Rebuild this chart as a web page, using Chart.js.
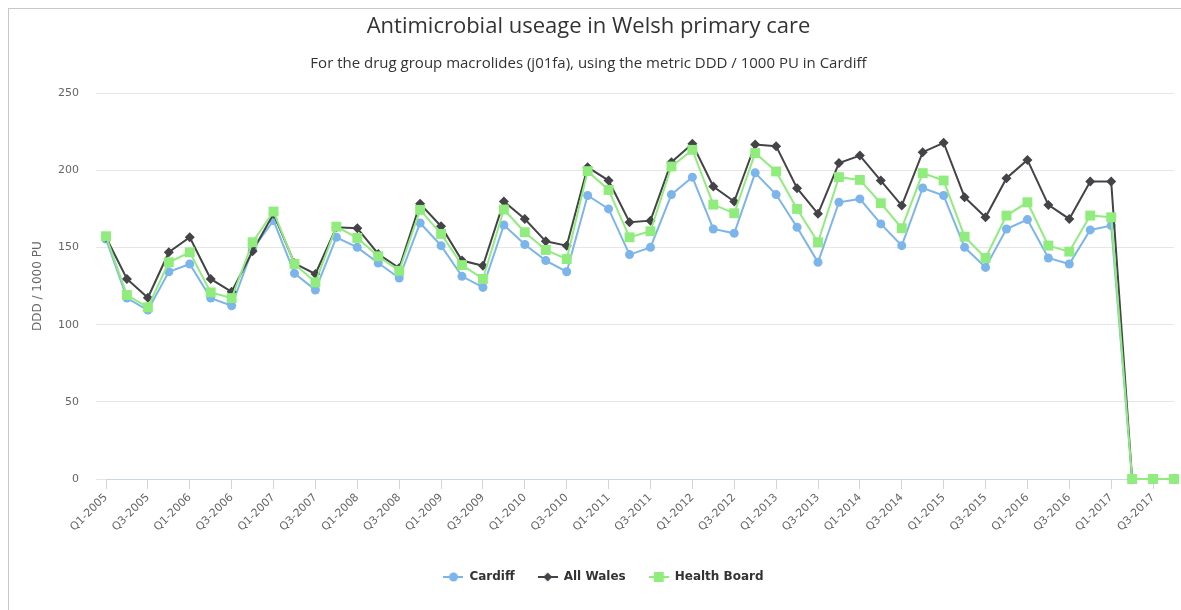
<!DOCTYPE html>
<html>
<head>
<meta charset="utf-8">
<script src="https://cdn.jsdelivr.net/npm/chart.js@4.4.1/dist/chart.umd.min.js"></script>
<style>
  html, body { margin: 0; padding: 0; background: #fff; overflow: hidden; }
  #frame { position: absolute; left: 8px; top: 8px; right: 0; bottom: 0; border-left: 1px solid #c8c8c8; border-top: 1px solid #c8c8c8; }
  #wrap { position: absolute; left: 0; top: 0; width: 1181px; height: 610px; }
</style>
</head>
<body>
<div id="frame"></div>
<div id="wrap"><canvas id="grafico" width="1181" height="610"></canvas></div>
<script>
var quarters = [
  "Q1-2005", "Q2-2005", "Q3-2005", "Q4-2005", "Q1-2006", "Q2-2006", "Q3-2006", "Q4-2006",
  "Q1-2007", "Q2-2007", "Q3-2007", "Q4-2007", "Q1-2008", "Q2-2008", "Q3-2008", "Q4-2008",
  "Q1-2009", "Q2-2009", "Q3-2009", "Q4-2009", "Q1-2010", "Q2-2010", "Q3-2010", "Q4-2010",
  "Q1-2011", "Q2-2011", "Q3-2011", "Q4-2011", "Q1-2012", "Q2-2012", "Q3-2012", "Q4-2012",
  "Q1-2013", "Q2-2013", "Q3-2013", "Q4-2013", "Q1-2014", "Q2-2014", "Q3-2014", "Q4-2014",
  "Q1-2015", "Q2-2015", "Q3-2015", "Q4-2015", "Q1-2016", "Q2-2016", "Q3-2016", "Q4-2016",
  "Q1-2017", "Q2-2017", "Q3-2017", "Q4-2017"
];

var cardiff = [
  155.6, 117.3, 109.5, 134.4, 139.4, 117.3, 112.3, 149, 167.5, 133.3, 122.5, 156.7, 150.2,
  140, 130.3, 166, 151.3, 131.4, 124.2, 164.7, 152, 141.6, 134.4, 183.8, 175.1, 145.5,
  150.2, 184.4, 195.7, 162.1, 159.3, 198.5, 184.4, 163.2, 140.5, 179.4, 181.6, 165.4, 151.3,
  188.7, 183.8, 150.2, 137.2, 162.1, 168.2, 143.3, 139.4, 161.5, 164.3, 0, 0, 0
];

var allWales = [
  156.7, 129.7, 117.5, 147, 156.7, 129.7, 121.4, 147.6, 171.9, 139.8, 132.9, 163.2, 162.6,
  145.9, 136.8, 178.4, 163.9, 141.6, 138.3, 179.9, 168.6, 154.1, 151.3, 202.2, 193.5, 166.5,
  167.5, 205.4, 217.3, 189.6, 179.9, 216.9, 215.8, 188.5, 171.9, 204.8, 209.7, 193.5, 177.3,
  211.9, 218, 182.7, 169.7, 195, 206.9, 177.7, 168.6, 192.9, 192.9, 0, 0, 0
];

var healthBoard = [
  157.4, 119.3, 111.3, 140.5, 147, 121, 117.3, 153.5, 173.4, 139.4, 127.5, 163.6, 156.3,
  144.4, 135, 174.5, 158.9, 138.7, 129.7, 174.7, 160, 148.5, 142.6, 199.6, 187.4, 156.7,
  160.6, 202.6, 213.4, 177.9, 172.3, 211.3, 199.4, 175.1, 153.5, 195.7, 193.9, 178.8, 162.6,
  198.3, 193.5, 157.1, 143.3, 170.8, 179.4, 151.3, 147.4, 170.8, 169.7, 0, 0, 0
];

var yTicks = [0, 50, 100, 150, 200, 250];

// legend symbol: short line with the marker in the middle, like the original
var legendSymbol = function (color, shape) {
  var c = document.createElement("canvas");
  c.width = 20;
  c.height = 12;
  var ctx = c.getContext("2d");
  ctx.strokeStyle = color;
  ctx.lineWidth = 2;
  ctx.beginPath();
  ctx.moveTo(0, 6);
  ctx.lineTo(20, 6);
  ctx.stroke();
  ctx.fillStyle = color;
  ctx.beginPath();
  if (shape == "circle") {
    ctx.arc(10, 6, 4.5, 0, Math.PI * 2);
  } else if (shape == "diamond") {
    ctx.moveTo(10, 1.5);
    ctx.lineTo(14.5, 6);
    ctx.lineTo(10, 10.5);
    ctx.lineTo(5.5, 6);
    ctx.closePath();
  } else {
    ctx.rect(5, 1, 10, 10);
  }
  ctx.fill();
  return c;
};

var serie = function (label, data, color, style, radius, order) {
  return {
    label: label,
    data: data,
    borderColor: color,
    backgroundColor: color,
    borderWidth: 2,
    pointStyle: style,
    pointRadius: radius,
    pointBorderWidth: 0,
    pointBackgroundColor: color,
    tension: 0,
    clip: false,
    order: order,
  };
};

var symbols = [
  legendSymbol("#7cb5ec", "circle"),
  legendSymbol("#434348", "diamond"),
  legendSymbol("#90ed7d", "square"),
];

// the original legend sits a little right of the canvas centre
var legendShift = {
  id: "legendShift",
  afterLayout: function (chart) {
    chart.legend.left += 15;
    chart.legend.right += 15;
  },
};

var ctx = document.getElementById("grafico").getContext("2d");
var myChart = new Chart(ctx, {
  type: "line",
  data: {
    labels: quarters,
    datasets: [
      serie("Cardiff", cardiff, "#7cb5ec", "circle", 4.5, 3),
      serie("All Wales", allWales, "#434348", "rectRot", 5, 2),
      serie("Health Board", healthBoard, "#90ed7d", "rect", 7, 1),
    ],
  },
  plugins: [legendShift],
  options: {
    responsive: false,
    animation: false,
    layout: { padding: { left: 0, right: 4, top: 0, bottom: 17 } },
    plugins: {
      title: {
        display: true,
        text: "Antimicrobial useage in Welsh primary care",
        color: "#333333",
        font: { family: "'Liberation Sans Narrow', 'Open Sans', sans-serif", size: 22, weight: "normal" },
        padding: { top: 14, bottom: 10 },
      },
      subtitle: {
        display: true,
        text: "For the drug group macrolides (j01fa), using the metric DDD / 1000 PU in Cardiff",
        color: "#333333",
        font: { family: "'Liberation Sans Narrow', 'Open Sans', sans-serif", size: 15 },
        padding: { top: 4, bottom: 21 },
      },
      legend: {
        position: "bottom",
        labels: {
          usePointStyle: true,
          pointStyleWidth: 20,
          boxHeight: 12,
          padding: 23,
          color: "#333333",
          font: { family: "'DejaVu Sans', sans-serif", size: 12, weight: "bold" },
          generateLabels: function (chart) {
            return chart.data.datasets.map(function (ds, i) {
              return {
                text: ds.label,
                fontColor: "#333333",
                pointStyle: symbols[i],
                datasetIndex: i,
                lineWidth: 0,
                strokeStyle: "transparent",
                fillStyle: ds.borderColor,
              };
            });
          },
        },
      },
      tooltip: { enabled: false },
    },
    scales: {
      x: {
        offset: false,
        afterFit: function (scale) {
          scale.height = 69;
        },
        grid: {
          drawOnChartArea: false,
          drawTicks: true,
          tickLength: 10,
          color: "#ccd6eb",
        },
        border: { color: "#ccd6eb", width: 1 },
        ticks: {
          autoSkip: false,
          maxRotation: 45,
          minRotation: 45,
          padding: 2,
          color: "#666666",
          font: { family: "'DejaVu Sans', sans-serif", size: 11 },
          callback: function (value, index) {
            return index % 2 == 0 ? quarters[index] : null;
          },
        },
      },
      y: {
        min: yTicks[0],
        max: yTicks[yTicks.length - 1],
        afterFit: function (scale) {
          scale.width = 106;
        },
        afterBuildTicks: function (scale) {
          scale.ticks = yTicks.map(function (v) {
            return { value: v };
          });
        },
        grid: {
          color: "#e6e6e6",
          drawTicks: true,
          tickLength: 10,
        },
        border: { display: false },
        ticks: {
          padding: 17,
          color: "#666666",
          font: { family: "'DejaVu Sans', sans-serif", size: 11 },
        },
        title: {
          display: true,
          text: "DDD / 1000 PU",
          color: "#666666",
          font: { family: "'DejaVu Sans', sans-serif", size: 12 },
          padding: { top: 31, bottom: 0 },
        },
      },
    },
  },
});
</script>
</body>
</html>
